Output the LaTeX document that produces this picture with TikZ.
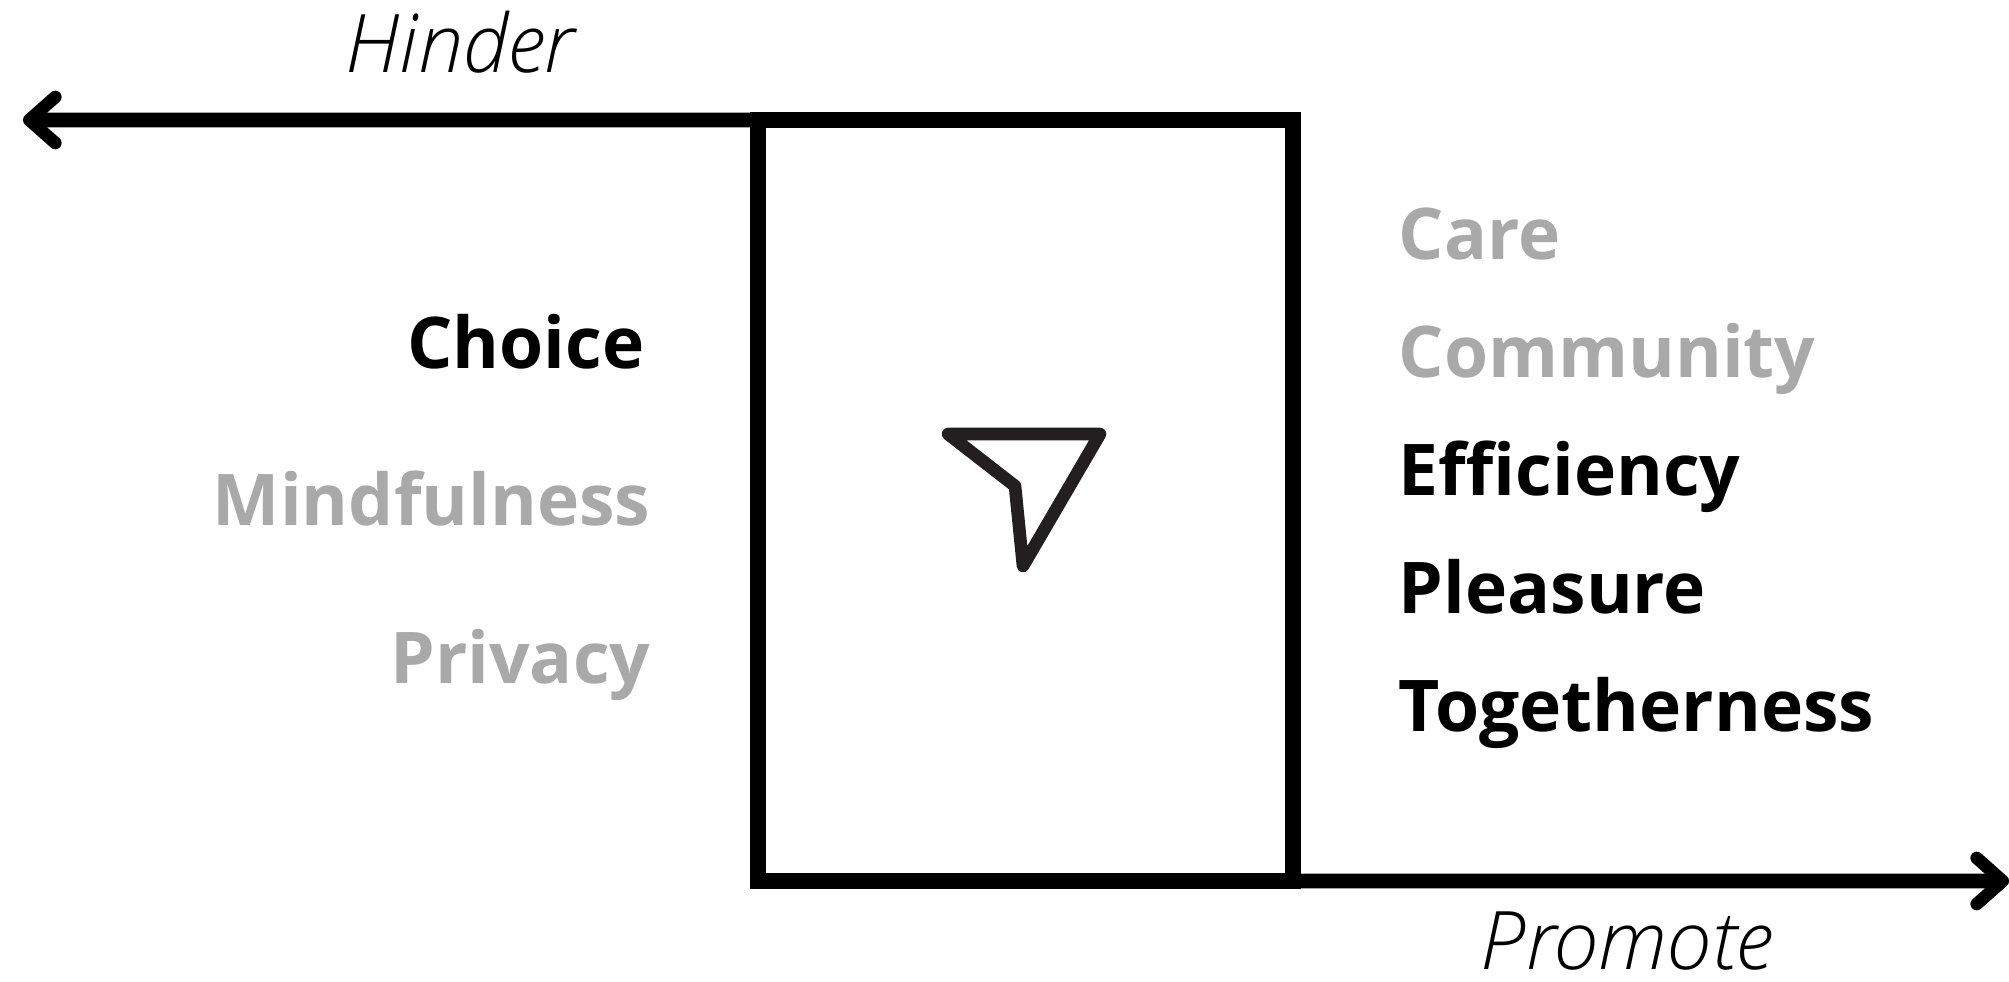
\documentclass[tikz,border=0pt]{standalone}
\usepackage{fontspec}
\setmainfont{Open Sans}
\newfontface\effectface{Open Sans Light Italic}
\usetikzlibrary{arrows.meta,positioning}
\definecolor{mutedgray}{HTML}{A9A9A9}
\definecolor{icondark}{HTML}{231F20}

\begin{document}
\begin{tikzpicture}[
  filterbox/.style={draw, line width=4.4pt, minimum width=5.35cm, minimum height=7.61cm,
              outer sep=0pt, inner sep=0pt},
  arrow/.style={-{Straight Barb[length=0.26cm, width=0.46cm, line width=3.6pt, round]},
              line width=4.2pt},
  value/.style={font=\fontsize{20.3}{21}\selectfont\bfseries, inner sep=0pt},
  muted/.style={value, text=mutedgray},
  effect/.style={font=\fontsize{23}{24}\effectface, inner sep=0pt, anchor=base},
  rowstep/.style={below=1.18cm of #1.base west, anchor=base west}
]
\useasboundingbox (0,0) rectangle (20.09,9.81);

% Filter box and icon
\node[filterbox] (filter) at (10.255,4.805) {};
\draw[line width=3.6pt, line join=round, color=icondark]
  (9.48,5.47) -- (11.00,5.47) -- (10.23,4.15) -- (10.15,4.95) -- cycle;

% Arrows
\coordinate (hinderend) at (0.23,8.61);
\coordinate (promoteend) at (20.09,1.00);
\draw[arrow] (filter.north west) -- (hinderend);
\draw[arrow] (filter.south east) -- (promoteend);

% Effect labels
\node[effect] (hinder) at (4.60,9.08) {Hinder};
\node[effect] (promote) at (16.27,0.12) {Promote};

% Hindered values
\node[value, anchor=base east] (choice) at (6.45,6.12) {Choice};
\node[muted, anchor=base east] (mindfulness) at (6.51,4.56) {Mindfulness};
\node[muted, anchor=base east] (privacy) at (6.51,2.98) {Privacy};

% Promoted values
\node[muted, anchor=base west] (care) at (13.98,7.21) {Care};
\node[muted, rowstep=care] (community) {Community};
\node[value, rowstep=community] (efficiency) {Efficiency};
\node[value, rowstep=efficiency] (pleasure) {Pleasure};
\node[value, rowstep=pleasure] (togetherness) {Togetherness};
\end{tikzpicture}
\end{document}
